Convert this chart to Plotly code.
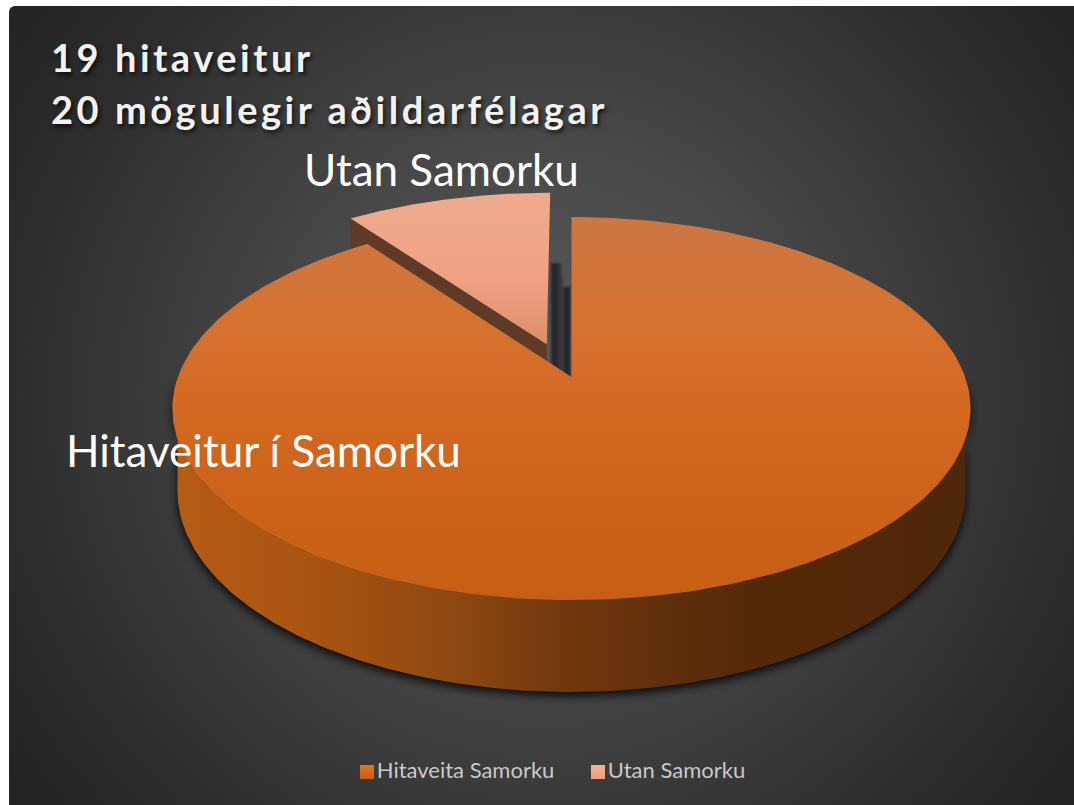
import base64
import numpy as np
import plotly.graph_objects as go

# ---- data ----
legend_names = ["Hitaveita Samorku", "Utan Samorku"]
slice_labels = ["Hitaveitur í Samorku", "Utan Samorku"]
slice_values = [18, 2]
title_lines = ["19 hitaveitur", "20 mögulegir aðildarfélagar"]

W, H = 1074, 805
# ---- projection of the tilted disc (pixel-like axis units) ----
CX, RX = 571.5, 393.6
PERSP_A, PERSP_B, PERSP_C = 124.3, 377.0, -0.1645
BASE_CY, BASE_RX, BASE_RY = 491.0, 394.0, 201.0
EXPLODE = 0.19
EXPLODE_SKEW = 0.006


def project(mx, mz):
    mx, mz = np.asarray(mx, float), np.asarray(mz, float)
    u = -mz
    den = 1 + PERSP_C * u
    return CX + RX * mx / den, (PERSP_A * u + PERSP_B) / den


def wedge(a0, a1, dx=0.0, dz=0.0):
    t = np.radians(np.linspace(a0, a1, 240))
    mx = np.concatenate([[dx], np.sin(t) + dx, [dx]])
    mz = np.concatenate([[dz], np.cos(t) + dz, [dz]])
    return project(mx, mz)


total = sum(slice_values)
a_big = 360 * slice_values[0] / total
mid = np.radians(a_big + (360 - a_big) / 2)
ex_dx, ex_dz = EXPLODE * np.sin(mid) - EXPLODE_SKEW, EXPLODE * np.cos(mid)

big_x, big_y = wedge(0, a_big)
small_x, small_y = wedge(a_big, 360, ex_dx, ex_dz)
apex_x, apex_y = project(ex_dx, ex_dz)
left_x, left_y = project(np.sin(np.radians(a_big)) + ex_dx, np.cos(np.radians(a_big)) + ex_dz)

# outer wall: front half of lower rim joined under the top face
phi = np.radians(np.linspace(90, 270, 240))
base_x = CX + BASE_RX * np.sin(phi)
base_y = BASE_CY - BASE_RY * np.cos(phi)
top_phi = np.radians(np.linspace(270, 90, 240))
top_x, top_y = project(np.sin(top_phi), np.cos(top_phi))
wall_x = np.concatenate([base_x, top_x])
wall_y = np.concatenate([base_y, top_y])

WALL_DEPTH = 25
cut_x = [left_x, apex_x, apex_x, left_x, left_x]
cut_y = [left_y, apex_y, apex_y + WALL_DEPTH - 8, left_y + WALL_DEPTH + 10, left_y]

# ---- background picture: radial gradient, shadows ----
n = [f"{x:.1f},{y:.1f}" for x, y in zip(wall_x, wall_y)]
svg = f"""<svg xmlns='http://www.w3.org/2000/svg' width='{W}' height='{H}' viewBox='0 0 {W} {H}'>
<defs>
<radialGradient id='bg' gradientUnits='userSpaceOnUse' cx='545' cy='395' r='690'>
<stop offset='0' stop-color='#5a5a5a'/><stop offset='0.32' stop-color='#4b4b4b'/>
<stop offset='0.58' stop-color='#3a3a3a'/><stop offset='0.8' stop-color='#2b2b2b'/>
<stop offset='1' stop-color='#212121'/></radialGradient>
<linearGradient id='notch' x1='0' x2='1' y1='0' y2='0'>
<stop offset='0' stop-color='#26282b'/><stop offset='0.3' stop-color='#2a2c2f'/>
<stop offset='0.55' stop-color='#3b3c3e'/><stop offset='0.8' stop-color='#26282a'/>
<stop offset='1' stop-color='#222426'/></linearGradient>
<filter id='soft' x='-10%' y='-10%' width='120%' height='120%'><feGaussianBlur stdDeviation='5'/></filter>
<filter id='tiny' x='-20%' y='-5%' width='140%' height='110%'><feGaussianBlur stdDeviation='0.8'/></filter>
</defs>
<rect x='9' y='6' width='{W}' height='{H}' rx='6' fill='url(#bg)'/>
<polygon points='{" ".join(n)}' fill='#000' opacity='0.85' transform='translate(0,4)' filter='url(#soft)'/>
<polygon points='551,263 561,263 563,287 570,287 570,379 551,366' fill='url(#notch)' filter='url(#tiny)'/>
</svg>"""
bg_uri = "data:image/svg+xml;base64," + base64.b64encode(svg.encode()).decode()


def filled(x, y, stops, kind, start, stop):
    return go.Scatter(
        x=x, y=y, mode="lines", fill="toself", line=dict(width=0),
        fillgradient=dict(type=kind, colorscale=stops, start=start, stop=stop),
        hoverinfo="skip", showlegend=False,
    )


fig = go.Figure()
# outer wall
fig.add_trace(filled(wall_x, wall_y,
                     [[0, "#b55c16"], [0.17, "#a95412"], [0.36, "#8c4710"], [0.5, "#6f370d"],
                      [0.72, "#54290a"], [1, "#4f2709"]],
                     "horizontal", 175, 968))
# cut wall of the pulled-out slice
fig.add_trace(go.Scatter(x=cut_x, y=cut_y, mode="lines", fill="toself", line=dict(width=0),
                         fillcolor="#5f3a27", hoverinfo="skip", showlegend=False))
# top faces
fig.add_trace(filled(big_x, big_y,
                     [[0, "#cc7743"], [0.3, "#d6712f"], [0.55, "#d2671f"], [1, "#c65e14"]],
                     "vertical", 217, 600))
fig.add_trace(filled(small_x, small_y,
                     [[0, "#eeab8e"], [0.55, "#f0a283"], [1, "#dc8e6b"]],
                     "vertical", 193, 346))

# legend swatches with labels
legend_x = [367, 598]
legend_y = [772, 772]
legend_top = ["#dc7729", "#f5b297"]
legend_bot = ["#c65e12", "#ec9f7e"]
for i, name in enumerate(legend_names):
    fig.add_trace(go.Scatter(
        x=[legend_x[i]], y=[legend_y[i]], mode="markers+text", name=name,
        text=[name], textposition="middle right",
        textfont=dict(family="Lato, Carlito, sans-serif", size=22, color="#c9c9c9"),
        marker=dict(symbol="square", size=14, color=legend_top[i], line=dict(width=0),
                    gradient=dict(type="vertical", color=legend_bot[i])),
        hoverinfo="skip", showlegend=False,
    ))

big_font = dict(family="Lato, Carlito, sans-serif", size=44, color="#ffffff")
title_font = dict(family="Lato, Carlito, sans-serif", size=38, color="#f2f2f2",
                  weight="bold", shadow="2px 3px 4px rgba(0,0,0,0.65)")
annotations = [
    dict(x=50, y=57, text=f"<b>{title_lines[0]}</b>", font=title_font),
    dict(x=50, y=109, text=f"<b>{title_lines[1]}</b>", font=title_font),
    dict(x=303, y=169, text=slice_labels[1], font=big_font),
    dict(x=65, y=450, text=slice_labels[0], font=big_font),
]
for a in annotations:
    a.update(xref="x", yref="y", xanchor="left", yanchor="middle", align="left",
             showarrow=False, borderpad=0)

fig.update_layout(
    width=W, height=H, margin=dict(l=0, r=0, t=0, b=0, autoexpand=False),
    paper_bgcolor="#ffffff", plot_bgcolor="rgba(0,0,0,0)", showlegend=False,
    xaxis=dict(range=[0, W], visible=False, fixedrange=True),
    yaxis=dict(range=[H, 0], visible=False, fixedrange=True),
    annotations=annotations,
    images=[dict(source=bg_uri, xref="paper", yref="paper", x=0, y=1, sizex=1, sizey=1,
                 xanchor="left", yanchor="top", sizing="stretch", layer="below")],
)

post = """
document.body.style.margin='0';
document.documentElement.style.overflow='hidden';
var s=document.createElement('style');
s.textContent=".annotation[data-index='0'] text,.annotation[data-index='1'] text{letter-spacing:3.55px}";
document.head.appendChild(s);
"""
fig.write_html("out.html", post_script=post, config={"displayModeBar": False})
